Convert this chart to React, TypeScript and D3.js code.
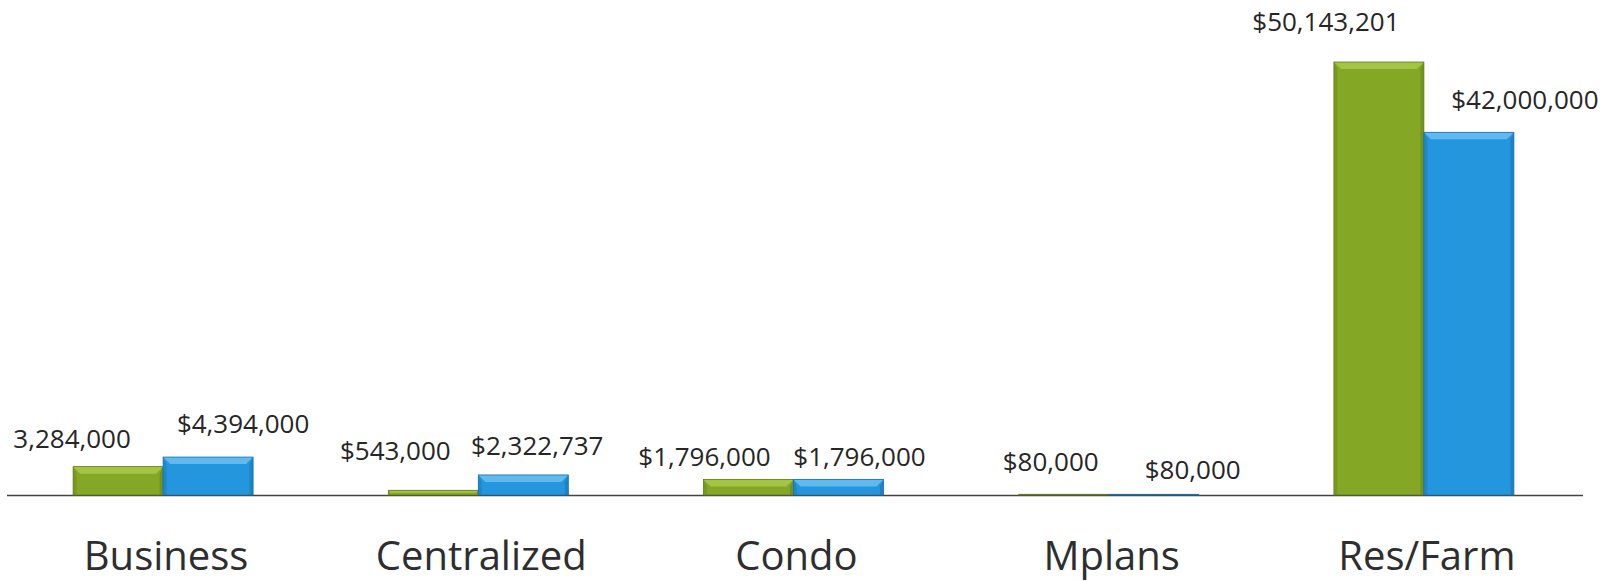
import React from "react";
import * as d3 from "d3";

const categories = ["Business", "Centralized", "Condo", "Mplans", "Res/Farm"];
const greenValues = [3284000, 543000, 1796000, 80000, 50143201];
const blueValues = [4394000, 2322737, 1796000, 80000, 42000000];
const greenLabels = ["3,284,000", "$543,000", "$1,796,000", "$80,000", "$50,143,201"];
const blueLabels = ["$4,394,000", "$2,322,737", "$1,796,000", "$80,000", "$42,000,000"];
// manual label placement offsets (px) relative to bar center / bar top
const greenLabelDx = [-46, -38, -44, -13, -53];
const greenLabelDy = [-29, -40, -23, -33, -41];
const blueLabelDx = [35, 14, 21, 39, 56];
const blueLabelDy = [-34, -30, -23, -25, -33];

const W = 1612;
const H = 581;
const BASE = 495;

const GREEN = "#84a826";
const GREEN_LIGHT = "#a9c94c";
const GREEN_DARK = "#5f7d14";
const BLUE = "#2496de";
const BLUE_LIGHT = "#6cc0f0";
const BLUE_DARK = "#1570b0";

function Bar({ x, y, w, h, fill, light, dark }) {
  if (h <= 0.3) return null;
  const b = Math.min(7, h / 2);
  return (
    <g>
      <rect x={x} y={y} width={w} height={h} fill={fill} />
      <polygon
        points={`${x},${y} ${x + w},${y} ${x + w - b},${y + b} ${x + b},${y + b}`}
        fill={light}
        opacity={0.85}
      />
      <polygon
        points={`${x},${y} ${x + b * 0.5},${y + b} ${x + b * 0.5},${y + h} ${x},${y + h}`}
        fill={dark}
        opacity={0.35}
      />
      <polygon
        points={`${x + w},${y} ${x + w - b * 0.5},${y + b} ${x + w - b * 0.5},${y + h} ${x + w},${y + h}`}
        fill={dark}
        opacity={0.5}
      />
      <rect x={x} y={y} width={w} height={h} fill="none" stroke={dark} strokeWidth={0.8} />
    </g>
  );
}

export default function App() {
  const x = d3
    .scaleBand()
    .domain(categories)
    .range([5.5, 1581.5])
    .paddingInner(0.429)
    .paddingOuter(0.2145);
  const inner = d3.scaleBand().domain(["g", "b"]).range([0, x.bandwidth()]);
  const y = d3.scaleLinear().domain([0, d3.max(greenValues)]).range([BASE, 62]);
  const font = "'Open Sans', 'DejaVu Sans', sans-serif";

  return (
    <svg width={W} height={H} style={{ position: "absolute", left: 0, top: 0, background: "#fff" }}>
      <line x1={7} x2={1583} y1={BASE + 0.5} y2={BASE + 0.5} stroke="#444" strokeWidth={1.6} />
      {categories.map((c, i) => {
        const gx = x(c) + inner("g");
        const bx = x(c) + inner("b");
        const bw = inner.bandwidth();
        const gy = y(greenValues[i]);
        const by = y(blueValues[i]);
        return (
          <g key={c}>
            <Bar x={gx} y={gy} w={bw} h={BASE - gy} fill={GREEN} light={GREEN_LIGHT} dark={GREEN_DARK} />
            <Bar x={bx} y={by} w={bw} h={BASE - by} fill={BLUE} light={BLUE_LIGHT} dark={BLUE_DARK} />
            <text
              x={gx + bw / 2 + greenLabelDx[i]}
              y={gy + greenLabelDy[i]}
              textAnchor="middle"
              dominantBaseline="central"
              fontFamily={font}
              fontSize={26}
              fill="#262626"
            >
              {greenLabels[i]}
            </text>
            <text
              x={bx + bw / 2 + blueLabelDx[i]}
              y={by + blueLabelDy[i]}
              textAnchor="middle"
              dominantBaseline="central"
              fontFamily={font}
              fontSize={26}
              fill="#262626"
            >
              {blueLabels[i]}
            </text>
            <text
              x={x(c) + x.bandwidth() / 2 + 3}
              y={570}
              textAnchor="middle"
              fontFamily={font}
              fontSize={40}
              fill="#2e2e2e"
            >
              {c}
            </text>
          </g>
        );
      })}
    </svg>
  );
}
